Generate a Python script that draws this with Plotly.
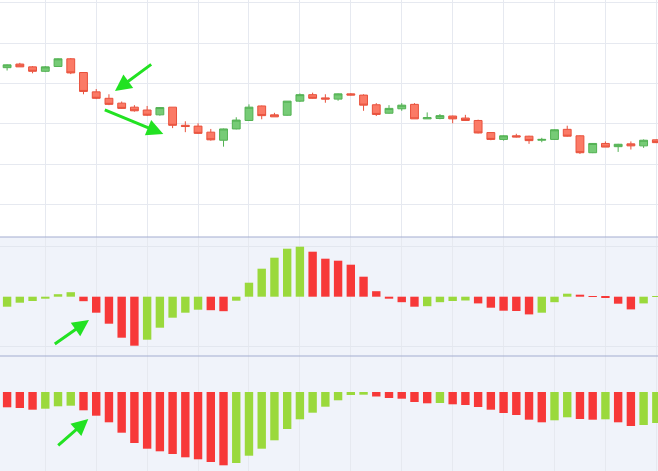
import plotly.graph_objects as go

# ---------------- data ----------------
bars_idx = list(range(52))

open_ = [13.39, 13.48, 13.41, 13.30, 13.42, 13.61, 13.27, 12.79, 12.63, 12.51,
         12.41, 12.34, 12.22, 12.41, 11.96, 11.94, 11.79, 11.59, 11.87, 12.08,
         12.44, 12.22, 12.21, 12.56, 12.72, 12.64, 12.61, 12.74, 12.71, 12.47,
         12.26, 12.37, 12.48, 12.12, 12.13, 12.19, 12.14, 12.08, 11.78, 11.61,
         11.70, 11.69, 11.59, 11.61, 11.86, 11.70, 11.28, 11.51, 11.43, 11.50,
         11.45, 11.60]
close = [13.46, 13.41, 13.30, 13.41, 13.61, 13.26, 12.80, 12.63, 12.48, 12.38,
         12.32, 12.21, 12.40, 11.96, 11.93, 11.76, 11.60, 11.87, 12.09, 12.41,
         12.20, 12.17, 12.56, 12.72, 12.63, 12.61, 12.74, 12.71, 12.46, 12.23,
         12.38, 12.46, 12.12, 12.15, 12.20, 12.12, 12.08, 11.77, 11.61, 11.70,
         11.67, 11.58, 11.61, 11.85, 11.69, 11.28, 11.51, 11.42, 11.49, 11.45,
         11.59, 11.53]
high = [13.47, 13.51, 13.43, 13.43, 13.62, 13.63, 13.28, 12.86, 12.73, 12.55,
        12.46, 12.44, 12.41, 12.41, 12.06, 12.01, 11.87, 11.88, 12.16, 12.48,
        12.45, 12.27, 12.56, 12.75, 12.77, 12.73, 12.75, 12.76, 12.73, 12.51,
        12.46, 12.51, 12.51, 12.28, 12.24, 12.20, 12.22, 12.10, 11.79, 11.71,
        11.75, 11.70, 11.65, 11.86, 11.95, 11.71, 11.52, 11.56, 11.50, 11.56,
        11.61, 11.61]
low = [13.32, 13.41, 13.25, 13.28, 13.42, 13.23, 12.73, 12.61, 12.46, 12.37,
       12.30, 12.19, 12.20, 11.89, 11.79, 11.75, 11.58, 11.43, 11.86, 12.07,
       12.11, 12.17, 12.20, 12.54, 12.62, 12.52, 12.57, 12.70, 12.32, 12.19,
       12.25, 12.32, 12.12, 12.12, 12.11, 12.01, 12.07, 11.76, 11.59, 11.58,
       11.66, 11.50, 11.54, 11.60, 11.68, 11.25, 11.27, 11.42, 11.30, 11.36,
       11.40, 11.52]

hist_a_prev = -0.12
hist_a = [-0.10, -0.06, -0.043, -0.02, 0.025, 0.045, -0.045, -0.16, -0.27, -0.41,
          -0.49, -0.43, -0.31, -0.21, -0.16, -0.13, -0.135, -0.145, -0.04, 0.14,
          0.28, 0.39, 0.48, 0.50, 0.45, 0.38, 0.36, 0.32, 0.20, 0.055,
          -0.02, -0.055, -0.10, -0.095, -0.055, -0.043, -0.038, -0.067, -0.11, -0.14,
          -0.143, -0.177, -0.16, -0.055, 0.03, 0.02, 0.005, -0.005, -0.07, -0.127,
          -0.067, 0.005]

hist_b_prev = -0.14
hist_b = [-0.153, -0.16, -0.177, -0.167, -0.143, -0.137, -0.183, -0.237, -0.303, -0.407,
          -0.51, -0.567, -0.593, -0.62, -0.653, -0.673, -0.70, -0.733, -0.71, -0.637,
          -0.567, -0.483, -0.37, -0.273, -0.207, -0.147, -0.083, -0.03, -0.027, -0.045,
          -0.06, -0.067, -0.10, -0.113, -0.11, -0.123, -0.13, -0.15, -0.177, -0.21,
          -0.23, -0.277, -0.303, -0.283, -0.253, -0.27, -0.277, -0.273, -0.303, -0.34,
          -0.33, -0.31]

grid_ticks = list(range(3, 52, 4))

# ---------------- style ----------------
W, H = 658, 471
BAR_GREEN = "#9ad93c"
BAR_RED = "#f73838"
ARROW = "#22e222"
PANEL_BG = "#f0f3fa"
SEP = "#a3add0"
GRID = "#e6e9f0"


def colors_for(prev, vals):
    prevs = [prev] + vals[:-1]
    return [BAR_GREEN if v >= p else BAR_RED for p, v in zip(prevs, vals)]


y_sep1 = 1 - 237 / H
y_sep2 = 1 - 356 / H

fig = go.Figure()

fig.add_trace(go.Candlestick(
    x=bars_idx, open=open_, high=high, low=low, close=close,
    xaxis="x", yaxis="y",
    increasing=dict(fillcolor="#76cb76", line=dict(color="#52b152", width=1)),
    decreasing=dict(fillcolor="#fb7a66", line=dict(color="#e8513c", width=1)),
    whiskerwidth=0, showlegend=False, hoverinfo="skip",
))

fig.add_trace(go.Bar(
    x=bars_idx, y=hist_a, xaxis="x2", yaxis="y2",
    marker=dict(color=colors_for(hist_a_prev, hist_a), line=dict(width=0)),
    showlegend=False, hoverinfo="skip",
))

fig.add_trace(go.Bar(
    x=bars_idx, y=hist_b, xaxis="x3", yaxis="y3",
    marker=dict(color=colors_for(hist_b_prev, hist_b), line=dict(width=0)),
    showlegend=False, hoverinfo="skip",
))

xr = [-0.558, 51.13]
xcommon = dict(range=xr, tickmode="array", tickvals=grid_ticks, showgrid=True,
               gridcolor=GRID, gridwidth=1, showticklabels=False, zeroline=False,
               showline=False, ticks="", fixedrange=True)

fig.update_layout(
    width=W, height=H,
    margin=dict(l=0, r=0, t=0, b=0),
    paper_bgcolor="white", plot_bgcolor="white",
    bargap=0.34,
    boxgap=0.12,
    xaxis=dict(domain=[0, 1], anchor="y", rangeslider=dict(visible=False), **xcommon),
    xaxis2=dict(domain=[0, 1], anchor="y2", matches="x", **xcommon),
    xaxis3=dict(domain=[0, 1], anchor="y3", matches="x", **xcommon),
    yaxis=dict(domain=[y_sep1, 1], anchor="x", range=[9.189, 15.069],
               tickmode="linear", tick0=10, dtick=1, showgrid=True, gridcolor=GRID,
               showticklabels=False, zeroline=False, ticks=""),
    yaxis2=dict(domain=[y_sep2, y_sep1], anchor="x2", range=[-0.593, 0.597],
                tickmode="array", tickvals=[-0.5, 0.5], showgrid=True, gridcolor="#e3e7ef",
                showticklabels=False, zeroline=False, ticks=""),
    yaxis3=dict(domain=[0, y_sep2], anchor="x3", range=[-0.79, 0.36],
                showgrid=False, showticklabels=False, zeroline=False, ticks=""),
    shapes=[
        dict(type="rect", xref="paper", yref="paper", x0=0, x1=1, y0=0, y1=y_sep1,
             fillcolor=PANEL_BG, line=dict(width=0), layer="below"),
        dict(type="line", xref="paper", yref="paper", x0=0, x1=1, y0=y_sep1, y1=y_sep1,
             line=dict(color=SEP, width=1)),
        dict(type="line", xref="paper", yref="paper", x0=0, x1=1, y0=y_sep2, y1=y_sep2,
             line=dict(color=SEP, width=1)),
    ],
)

# arrows: (head_px_x, head_px_y, tail_dx, tail_dy)
arrows = [
    (115, 91, 37.7, -27.7),
    (163.3, 134, -60, -24.7),
    (89, 320, -35.7, 25),
    (88.3, 419, -31.6, 27.7),
]
for hx, hy, dx, dy in arrows:
    fig.add_annotation(
        x=hx / W, y=1 - hy / H, xref="paper", yref="paper",
        ax=dx, ay=dy, axref="pixel", ayref="pixel",
        text="", showarrow=True, arrowhead=2, arrowsize=1.1, arrowwidth=3,
        arrowcolor=ARROW, standoff=0,
    )

fig.write_html(
    "out.html",
    config=dict(displayModeBar=False),
    post_script="document.body.style.margin='0';document.body.style.overflow='hidden';",
)
